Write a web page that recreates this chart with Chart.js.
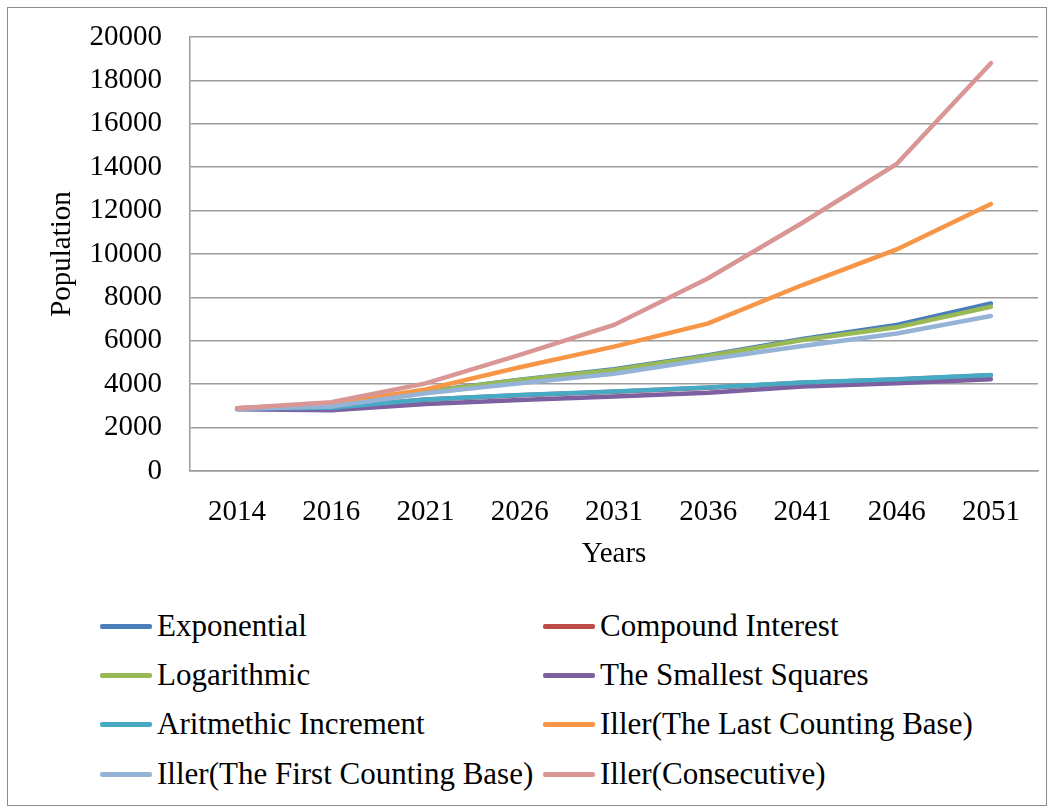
<!DOCTYPE html>
<html>
<head>
<meta charset="utf-8">
<script src="https://cdn.jsdelivr.net/npm/chart.js@4"></script>
<style>
  body { margin: 0; background: #fff; }
  #frame { position: absolute; left: 7px; top: 7px; width: 1038px; height: 797px; border: 1px solid #8c8c8c; }
  .legend-item { position: absolute; height: 36px; display: flex; align-items: center; color: #000; white-space: nowrap; }
  .swatch { display: inline-block; width: 52px; height: 5px; margin-right: 5px; border-radius: 2px; }
</style>
</head>
<body>
<div id="frame">
  <canvas id="popChart" width="1038" height="592"></canvas>
  <div id="legend"></div>
</div>
<script>
// ================= Data =================
const years = ['2014', '2016', '2021', '2026', '2031', '2036', '2041', '2046', '2051'];

const exponential      = [2890, 3000, 3660, 4210, 4690, 5340, 6080, 6730, 7720];
const compoundInterest = [2870, 2910, 3290, 3490, 3650, 3840, 4070, 4220, 4410];
const logarithmic      = [2890, 2990, 3650, 4190, 4650, 5300, 6040, 6620, 7570];
const smallestSquares  = [2850, 2800, 3090, 3270, 3430, 3610, 3890, 4040, 4230];
const arithmetic       = [2880, 2920, 3300, 3500, 3660, 3850, 4080, 4230, 4420];
const illerLast        = [2890, 3100, 3760, 4780, 5730, 6800, 8570, 10210, 12300];
const illerFirst       = [2870, 2970, 3580, 4040, 4480, 5150, 5760, 6340, 7140];
const illerConsecutive = [2890, 3170, 4040, 5350, 6730, 8880, 11440, 14150, 18790];

const yTicks = [0, 2000, 4000, 6000, 8000, 10000, 12000, 14000, 16000, 18000, 20000];

// ================= Chart =================
const serif = '"Liberation Serif", "Times New Roman", serif';
const gridColor = '#9c9c9c';

const seriesList = [
    ['Exponential', exponential, '#4a7ebb'],
    ['Compound Interest', compoundInterest, '#be4b48'],
    ['Logarithmic', logarithmic, '#98b954'],
    ['The Smallest Squares', smallestSquares, '#7d60a0'],
    ['Aritmethic Increment', arithmetic, '#46aac5'],
    ['Iller(The Last Counting Base)', illerLast, '#f79646'],
    ['Iller(The First Counting Base)', illerFirst, '#95b3d7'],
    ['Iller(Consecutive)', illerConsecutive, '#d99694']
];

const datasets = seriesList.map((s, i) => ({
    label: s[0],
    data: s[1],
    borderColor: s[2],
    backgroundColor: s[2],
    borderWidth: 4.5,
    pointRadius: 0,
    tension: 0,
    borderCapStyle: 'round',
    order: seriesList.length - i   // later series drawn on top, like the original
}));

const chart = new Chart(document.getElementById('popChart'), {
    type: 'line',
    data: { labels: years, datasets: datasets },
    options: {
        responsive: false,
        animation: false,
        layout: { padding: { top: 29, right: 8, bottom: 0, left: 0 } },
        plugins: { legend: { display: false }, tooltip: { enabled: false } },
        scales: {
            x: {
                offset: true,
                grid: { display: false, drawTicks: false },
                border: { display: true, color: gridColor, width: 1.5 },
                ticks: { color: '#000', font: { family: serif, size: 29 }, padding: 24, maxRotation: 0 },
                title: { display: true, text: 'Years', color: '#000', font: { family: serif, size: 29 }, padding: { top: 0, bottom: 28 } },
                afterFit: (scale) => { scale.height = 129; }
            },
            y: {
                min: 0,
                max: 20000,
                afterBuildTicks: (scale) => { scale.ticks = yTicks.map(v => ({ value: v })); },
                // invisible tick marks keep the label gap without padding the top
                grid: { color: gridColor, lineWidth: 1.5, drawTicks: true, tickLength: 28, tickColor: 'rgba(0,0,0,0)' },
                border: { display: true, color: gridColor, width: 1.5 },
                ticks: { color: '#000', font: { family: serif, size: 29 }, padding: 0, callback: (v) => String(v) },
                title: { display: true, text: 'Population', color: '#000', font: { family: serif, size: 29 }, padding: { top: 37, bottom: 0 } },
                afterFit: (scale) => { scale.width = 182; }
            }
        }
    }
});

// ================= Legend (two columns) =================
const legendBox = document.getElementById('legend');
const colX = [92, 535];
const rowY = [600, 649, 698, 748];
chart.options.plugins.legend.labels.generateLabels(chart)
    .sort((a, b) => a.datasetIndex - b.datasetIndex)
    .forEach((item, i) => {
        const div = document.createElement('div');
        div.className = 'legend-item';
        div.style.fontFamily = serif;
        div.style.fontSize = '31px';
        div.style.left = colX[i % 2] + 'px';
        div.style.top = rowY[Math.floor(i / 2)] + 'px';
        div.innerHTML = `<span class="swatch" style="background:${item.strokeStyle}"></span>${item.text}`;
        legendBox.appendChild(div);
    });
</script>
</body>
</html>
